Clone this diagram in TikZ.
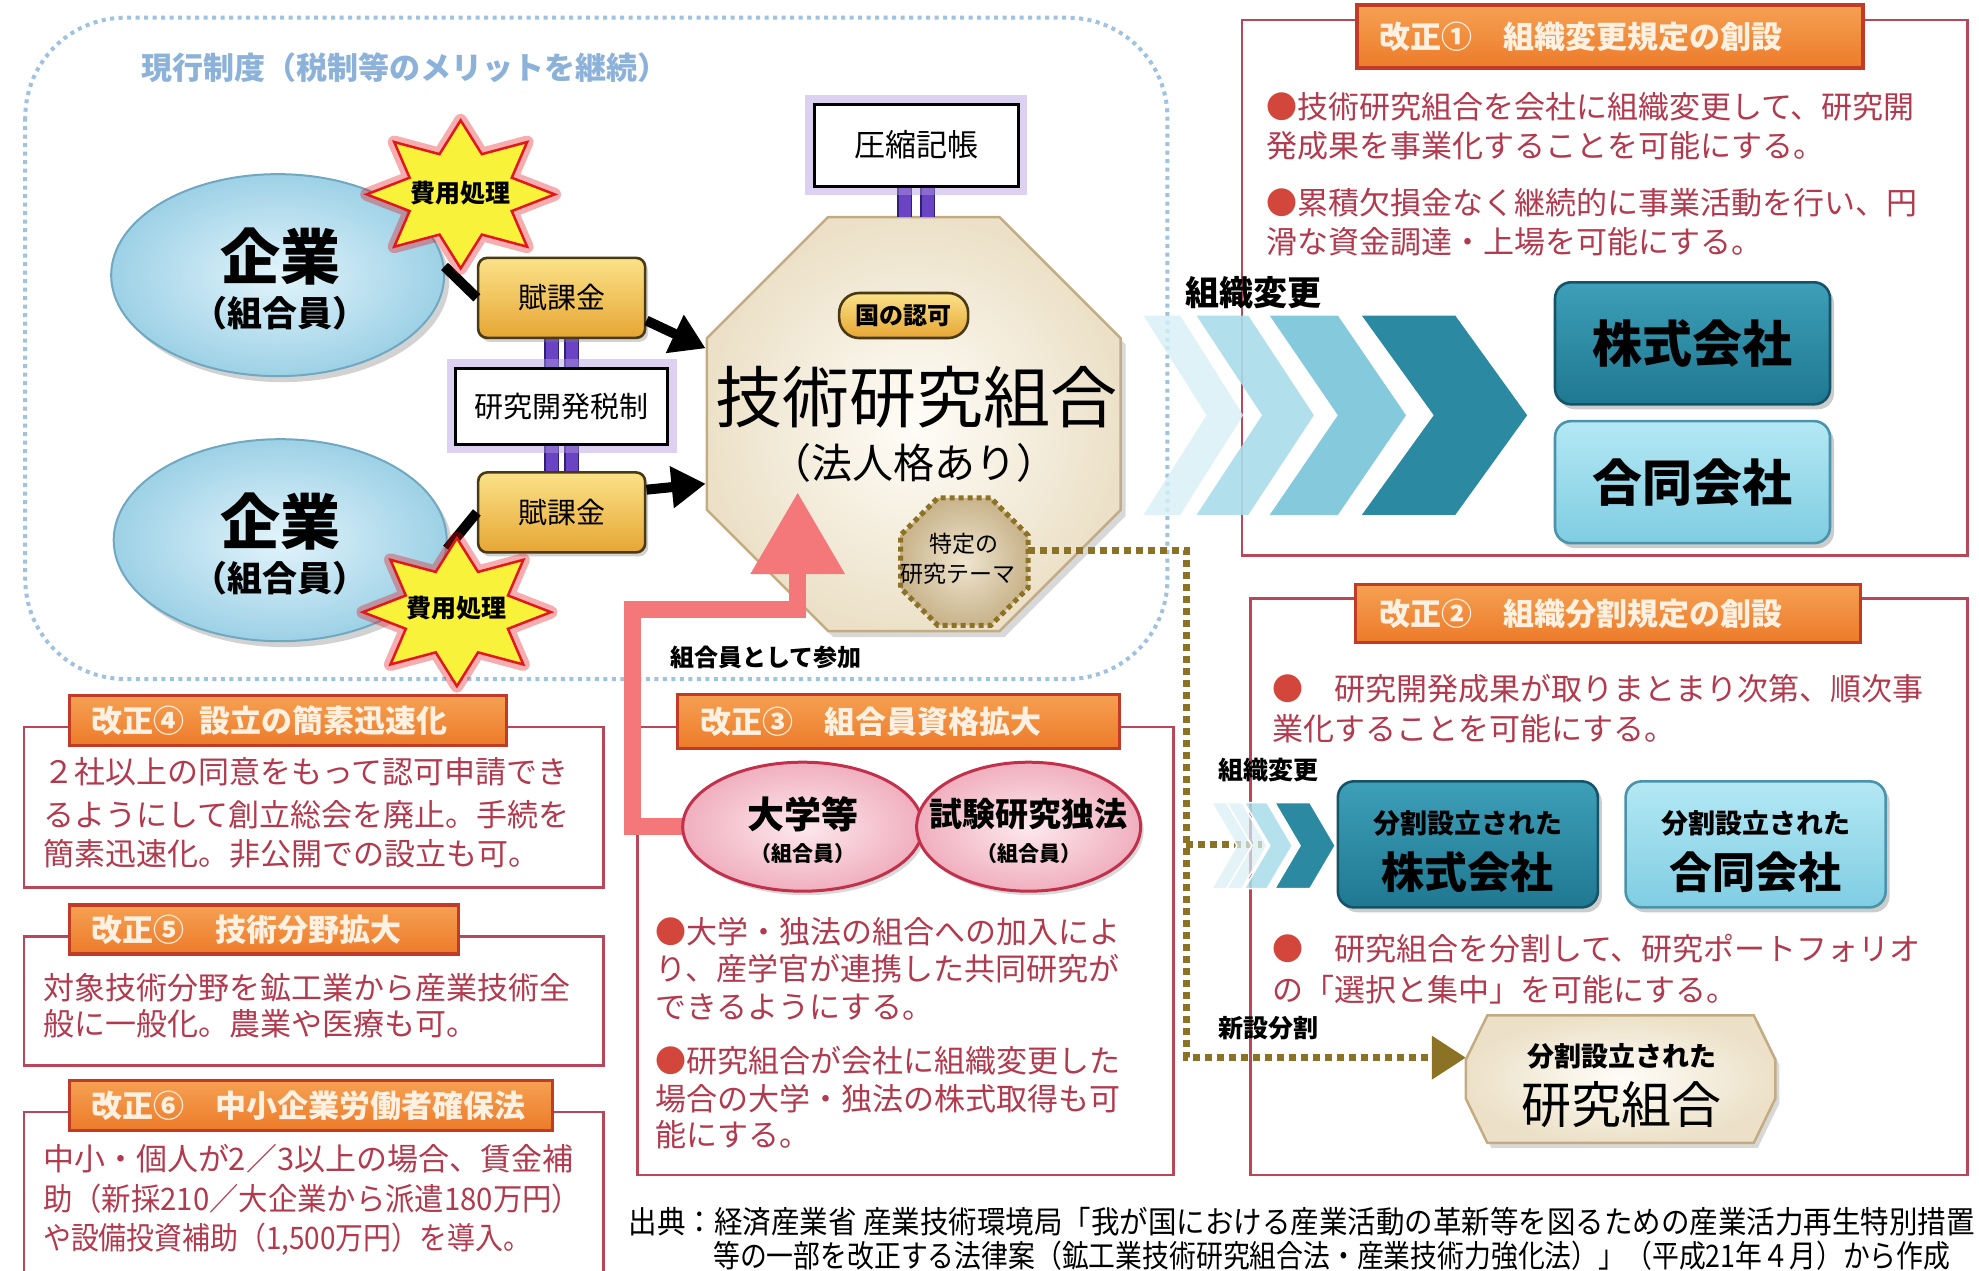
\documentclass[tikz,border=0pt]{standalone}
\usepackage{fontspec}
\setmainfont{Noto Sans CJK JP}
\usepackage{graphicx}
\usetikzlibrary{shapes.geometric,shapes.misc,arrows.meta,calc,shadows}

\definecolor{bodyred}{HTML}{B23A4E}
\definecolor{bulred}{HTML}{D2463C}
\definecolor{boxred}{HTML}{B8475A}
\definecolor{hdrborder}{HTML}{C23B27}
\definecolor{hdrtop}{HTML}{F6A052}
\definecolor{hdrbot}{HTML}{EC7B2A}
\definecolor{hdrtxt}{HTML}{FFF1E2}
\definecolor{dotblue}{HTML}{9EC2E0}
\definecolor{titleblue}{HTML}{8DB2DA}
\definecolor{entin}{HTML}{E2F4FB}
\definecolor{entout}{HTML}{9DD1E6}
\definecolor{entborder}{HTML}{6FA8C0}
\definecolor{fukatop}{HTML}{FBE288}
\definecolor{fukabot}{HTML}{E6A634}
\definecolor{fukaborder}{HTML}{4A3A14}
\definecolor{glowpurple}{HTML}{B49BE0}
\definecolor{purp}{HTML}{6A44C2}
\definecolor{purpdark}{HTML}{2E1F78}
\definecolor{burstyellow}{HTML}{F8F23A}
\definecolor{burstred}{HTML}{E3161B}
\definecolor{octin}{HTML}{FFFDF8}
\definecolor{octout}{HTML}{ECE1C8}
\definecolor{octborder}{HTML}{C4AC82}
\definecolor{tokin}{HTML}{EFE5CF}
\definecolor{tokout}{HTML}{C9B48C}
\definecolor{brownd}{HTML}{8C7224}
\definecolor{pinkline}{HTML}{F4787A}
\definecolor{pinkin}{HTML}{FDE9EE}
\definecolor{pinkout}{HTML}{F0AFBE}
\definecolor{pinkborder}{HTML}{C2304C}
\definecolor{tealtop}{HTML}{3E9FB8}
\definecolor{tealbot}{HTML}{1F7891}
\definecolor{tealborder}{HTML}{155468}
\definecolor{cyantop}{HTML}{B4E8F4}
\definecolor{cyanbot}{HTML}{7FCDE2}
\definecolor{cyanborder}{HTML}{4B93AA}
\definecolor{chA}{HTML}{D8EFF6}
\definecolor{chB}{HTML}{A9DCEA}
\definecolor{chC}{HTML}{7FC7DC}
\definecolor{chD}{HTML}{2B8AA2}

\newcommand\fz[1]{\fontsize{#1pt}{#1pt}\selectfont}
\newcommand\bul{\textcolor{bulred}{●}}
\newcommand\chevron[6]{%
  \fill[#6] (#1,#4) -- ({#1+#2},#4) -- ({#1+#2+#3},{(#4+#5)/2}) -- ({#1+#2},#5) -- (#1,#5) -- ({#1+#3},{(#4+#5)/2}) -- cycle;}

\begin{document}
\begin{tikzpicture}[x=1.2621pt,y=-1.2621pt,
  boxline/.style={draw=boxred, line width=2.6pt},
  bluedot/.style={draw=dotblue, line width=4pt, dash pattern=on 4pt off 4.5pt},
  hdrbox/.style={rectangle, draw=hdrborder, line width=3.5pt, top color=hdrtop, bottom color=hdrbot, inner sep=0},
  hdrtext/.style={anchor=west, inner sep=0, text=hdrtxt, font=\fz{31}\bfseries},
  bodytxt/.style={anchor=west, inner sep=0, text=bodyred, font=\fz{31}, text height=27pt, text depth=5pt},
  entell/.style={ellipse, draw=entborder, line width=2pt, inner color=entin, outer color=entout, minimum width=333pt, minimum height=202pt, inner sep=0, drop shadow={opacity=0.35, shadow xshift=5pt, shadow yshift=-6pt}},
  fukabox/.style={rectangle, rounded corners=9pt, draw=fukaborder, line width=2.6pt, top color=fukatop, bottom color=fukabot, minimum width=167pt, minimum height=80pt, font=\fz{29}, drop shadow={opacity=0.35, shadow xshift=3pt, shadow yshift=-4pt}},
  glowbox/.style={rectangle, draw=black, line width=3pt, fill=white, preaction={draw=glowpurple, line width=18pt, opacity=0.45}},
  burst/.style={star, star points=8, star point ratio=1.7, minimum size=148pt, inner sep=0, fill=burstyellow, draw=burstred, line width=2.5pt, preaction={draw=burstred, line width=13pt, line join=round, opacity=0.35}},
  bursttext/.style={inner sep=0, font=\fz{25}\bfseries},
  octo/.style={regular polygon, regular polygon sides=8, minimum size=448pt, inner sep=0, draw=octborder, line width=2.5pt, inner color=octin, outer color=octout, drop shadow={opacity=0.3, shadow xshift=5pt, shadow yshift=-6pt}},
  octshape/.style={regular polygon, regular polygon sides=8, minimum size=138pt, inner sep=0},
  tokoct/.style={octshape, inner color=tokin, outer color=tokout, draw=brownd, line width=5pt, dash pattern=on 5pt off 4pt},
  pillbox/.style={rectangle, rounded corners=20pt, draw=fukaborder, line width=2.6pt, top color=fukatop, bottom color=fukabot, minimum width=129pt, minimum height=45pt, inner sep=0, font=\fz{24}\bfseries},
  tealbox/.style={rectangle, rounded corners=16pt, draw=tealborder, line width=2.6pt, top color=tealtop, bottom color=tealbot, inner sep=0, drop shadow={opacity=0.4, shadow xshift=4pt, shadow yshift=-5pt}},
  cyanbox/.style={rectangle, rounded corners=16pt, draw=cyanborder, line width=2.6pt, top color=cyantop, bottom color=cyanbot, inner sep=0, drop shadow={opacity=0.4, shadow xshift=4pt, shadow yshift=-5pt}},
  ellshape/.style={ellipse, minimum height=129pt, inner sep=0},
  pinkell/.style={ellshape, draw=pinkborder, line width=3pt, inner color=pinkin, outer color=pinkout, drop shadow={opacity=0.3, shadow xshift=3pt, shadow yshift=-4pt}},
  blkline/.style={draw=black, line width=10pt},
  blkarrow/.style={draw=black, line width=10pt, -{Triangle[length=34pt,width=40pt]}},
  pinkarrow/.style={draw=pinkline, line width=17pt, -{Triangle[length=82pt,width=90pt]}},
  browndot/.style={draw=brownd, line width=7pt, dash pattern=on 7pt off 5pt},
  pbar/.style={draw=purp, line width=12pt, preaction={draw=purpdark, line width=15pt}},
  hexfill/.style={draw=octborder, line width=2.5pt, inner color=octin, outer color=octout, drop shadow={opacity=0.3, shadow xshift=4pt, shadow yshift=-5pt}},
  lbl/.style={inner sep=0, font=\fz{25}\bfseries},
]
\useasboundingbox (0,0) rectangle (1568,1006.3);
\fill[white] (0,0) rectangle (1568,1006.3);

% ---------- frames ----------
\draw[bluedot, rounded corners=100pt] (20,14) rectangle (925,538);
\node[anchor=west, inner sep=0, font=\fz{31}\bfseries, text=titleblue] (title) at (112,54) {現行制度（税制等のメリットを継続）};

\draw[boxline] (984,16) rectangle (1559,440);
\draw[boxline] (991,474) rectangle (1559,931);
\draw[boxline] (505,576) rectangle (930,931);
\draw[boxline] (19,576) rectangle (478,703);
\draw[boxline] (19,742) rectangle (478,844);
\draw[boxline] (19,881) rectangle (478,1015);

% ---------- big chevrons ----------
\chevron{906}{29}{50}{250}{408}{chA, fill opacity=.8}
\chevron{948}{41}{52}{250}{408}{chB, fill opacity=.9}
\chevron{1006}{54}{54}{250}{408}{chC, fill opacity=.95}
\chevron{1079}{74}{57}{250}{408}{chD}
\node[inner sep=0, font=\fz{34}\bfseries] (soshiki1) at (993,232) {組織変更};

% ---------- companies (box 1) ----------
\node[tealbox, minimum width=275pt, minimum height=122pt, font=\fz{50}\bfseries] (kabu1) at (1341,272) {株式会社};
\node[cyanbox, minimum width=275pt, minimum height=122pt, font=\fz{50}\bfseries] (goudou1) at (1341,382) {合同会社};

% ---------- left cluster ----------
\node[entell] (ent1) at (220,218) {};
\node[entell] (ent2) at (222,428) {};
\node[inner sep=0, font=\fz{60}\bfseries] (ent1a) at (222,203) {企業};
\node[inner sep=0, font=\fz{35}\bfseries] (ent1b) at (222,248) {（組合員）};
\node[inner sep=0, font=\fz{60}\bfseries] (ent2a) at (222,413) {企業};
\node[inner sep=0, font=\fz{35}\bfseries] (ent2b) at (222,458) {（組合員）};

\node[octo] (oct) at (724,336) {};

\foreach \dx in {-8,8}{
  \draw[pbar] ($(445,268)+(\dx,0)$) -- ($(445,292)+(\dx,0)$);
  \draw[pbar] ($(445,352)+(\dx,0)$) -- ($(445,375)+(\dx,0)$);
}
\node[fukabox] (fuka1) at (445,236) {賦課金};
\node[glowbox, minimum width=212pt, minimum height=76pt, font=\fz{29}] (tax) at (445,322) {研究開発税制};
\node[fukabox] (fuka2) at (445,406) {賦課金};

\draw[blkline] (ent1.3) -- (fuka1.west);
\draw[blkarrow] (fuka1.-15) -- (oct.160);
\draw[blkline] (ent2.-3) -- (fuka2.west);
\draw[blkarrow] (fuka2.15) -- (oct.196);

\begin{scope}[shift={(365,154)}, xscale=1.27]
  \node[burst, transform shape] (star1) at (0,0) {};
\end{scope}
\node[bursttext] (star1t) at (365,153) {費用処理};
\begin{scope}[shift={(362,485)}, xscale=1.27]
  \node[burst, transform shape] (star2) at (0,0) {};
\end{scope}
\node[bursttext] (star2t) at (362,482) {費用処理};

\foreach \dx in {-9,9}{
  \draw[pbar] ($(726,148)+(\dx,0)$) -- ($(726,172)+(\dx,0)$);
}
\node[glowbox, minimum width=204pt, minimum height=82pt, font=\fz{31}] (assh) at (726,115) {圧縮記帳};

\node[pillbox] (nintei) at (716,250) {国の認可};
\node[inner sep=0, font=\fz{67}] (gk) at (726,315) {技術研究組合};
\node[inner sep=0, font=\fz{41}] (hj) at (724,367) {（法人格あり）};

% ---------- brown dotted route ----------
\node[octshape] (tok) at (764,445) {};
\coordinate (bend) at (940,838);
\coordinate (bbr) at (940,669);
\coordinate (bbrend) at (1000,669);
\node[minimum width=309pt, minimum height=127pt, inner sep=0] (kumiai) at (1284,855) {};
\draw[browndot, -{Triangle[length=34pt,width=42pt]}] (tok.10) -| (bend) -- (bend -| kumiai.west);
\draw[browndot] (bbr) -- (bbrend);
\node[tokoct] (tokvis) at (tok) {};
\node[inner sep=0, font=\fz{23}] (tok1) at (764,431) {特定の};
\node[inner sep=0, font=\fz{23}] (tok2) at (759,455) {研究テーマ};

% ---------- pink arrow ----------
\node[ellshape, minimum width=240pt] (dai) at (636,655) {};
\coordinate (pk2) at (501,483);
\coordinate (pktip) at (632,390);
\draw[pinkarrow] (dai.west) -| (pk2) -| (pktip);
\node[pinkell, minimum width=240pt] (daivis) at (dai) {};
\node[pinkell, minimum width=224pt] (shi) at (815,655) {};
\node[inner sep=0, font=\fz{37}\bfseries] (daiA) at (636,645) {大学等};
\node[inner sep=0, font=\fz{21}\bfseries] (daiB) at (636,676) {（組合員）};
\node[inner sep=0, font=\fz{33}\bfseries] (shiA) at (815,645) {試験研究独法};
\node[inner sep=0, font=\fz{21}\bfseries] (shiB) at (815,676) {（組合員）};
\node[lbl, font=\fz{24}\bfseries] (sanka) at (607,521) {組合員として参加};

% ---------- headers ----------
\node[hdrbox, minimum width=506pt, minimum height=63pt] (h1) at (1275.5,29) {};
\node[hdrtext] (h1t) at (1093,29) {改正①　組織変更規定の創設};
\node[hdrbox, minimum width=505pt, minimum height=58pt] (h2) at (1274,486) {};
\node[hdrtext] (h2t) at (1093,486) {改正②　組織分割規定の創設};
\node[hdrbox, minimum width=442pt, minimum height=54pt] (h3) at (712,571.5) {};
\node[hdrtext] (h3t) at (555,571.5) {改正③　組合員資格拡大};
\node[hdrbox, minimum width=437pt, minimum height=50pt] (h4) at (228,571) {};
\node[hdrtext] (h4t) at (72,571) {改正④\hspace{0.5em}設立の簡素迅速化};
\node[hdrbox, minimum width=389pt, minimum height=49pt] (h5) at (209,736.5) {};
\node[hdrtext] (h5t) at (72,736.5) {改正⑤　技術分野拡大};
\node[hdrbox, minimum width=483pt, minimum height=50pt] (h6) at (246.5,876) {};
\node[hdrtext] (h6t) at (72,876) {改正⑥　中小企業労働者確保法};

% ---------- body texts ----------
\node[bodytxt] (b1a) at (1003,85) {\bul 技術研究組合を会社に組織変更して、研究開};
\node[bodytxt] (b1b) at (1003,116) {発成果を事業化することを可能にする。};
\node[bodytxt] (b1c) at (1003,161) {\bul 累積欠損金なく継続的に事業活動を行い、円};
\node[bodytxt] (b1d) at (1003,192) {滑な資金調達・上場を可能にする。};

\node[bodytxt] (b2a) at (1008,546) {\bul　研究開発成果が取りまとまり次第、順次事};
\node[bodytxt] (b2b) at (1008,578) {業化することを可能にする。};
\node[bodytxt] (b2c) at (1008,752) {\bul　研究組合を分割して、研究ポートフォリオ};
\node[bodytxt] (b2d) at (1008,785) {の「選択と集中」を可能にする。};

\node[bodytxt] (b3a) at (519,739) {\bul 大学・独法の組合への加入によ};
\node[bodytxt] (b3b) at (519,768) {り、産学官が連携した共同研究が};
\node[bodytxt] (b3c) at (519,798) {できるようにする。};
\node[bodytxt] (b3d) at (519,841) {\bul 研究組合が会社に組織変更した};
\node[bodytxt] (b3e) at (519,871) {場合の大学・独法の株式取得も可};
\node[bodytxt] (b3f) at (519,900) {能にする。};

\node[bodytxt] (b4a) at (34,612) {２社以上の同意をもって認可申請でき};
\node[bodytxt] (b4b) at (34,646) {るようにして創立総会を廃止。手続を};
\node[bodytxt] (b4c) at (34,677) {簡素迅速化。非公開での設立も可。};

\node[bodytxt] (b5a) at (34,783) {対象技術分野を鉱工業から産業技術全};
\node[bodytxt] (b5b) at (34,812) {般に一般化。農業や医療も可。};

\node[bodytxt] (b6a) at (34,919) {\resizebox{530pt}{\height}{中小・個人が2／3以上の場合、賃金補}};
\node[bodytxt] (b6b) at (34,950) {\resizebox{538pt}{\height}{助（新採210／大企業から派遣180万円）}};
\node[bodytxt] (b6c) at (34,981) {\resizebox{488pt}{\height}{や設備投資補助（1,500万円）を導入。}};

% ---------- box 2 diagram ----------
\chevron{960}{12}{20}{636}{704}{chA, fill opacity=.7, draw=white, line width=1.5pt}
\chevron{972}{12}{20}{636}{704}{chA, fill opacity=.7, draw=white, line width=1.5pt}
\chevron{986}{18}{20}{636}{704}{chB, fill opacity=.85, draw=white, line width=1.5pt}
\chevron{1010}{28}{20}{636}{704}{chD, draw=white, line width=1.5pt}
\node[lbl] (soshiki2) at (1005,610) {組織変更};
\node[lbl] (shinsetsu) at (1005,815) {新設分割};

\node[tealbox, minimum width=260pt, minimum height=126pt] (kabu2) at (1163,669) {};
\node[inner sep=0, font=\fz{27}\bfseries] (kabu2a) at (1163,652) {分割設立された};
\node[inner sep=0, font=\fz{43}\bfseries] (kabu2b) at (1163,691) {株式会社};
\node[cyanbox, minimum width=260pt, minimum height=126pt] (goudou2) at (1391,669) {};
\node[inner sep=0, font=\fz{27}\bfseries] (goudou2a) at (1391,652) {分割設立された};
\node[inner sep=0, font=\fz{43}\bfseries] (goudou2b) at (1391,691) {合同会社};

\path[hexfill] ($(kumiai.north west)+(17,0)$) -- ($(kumiai.north east)+(-17,0)$) -- ($(kumiai.north east)+(0,35)$) -- ($(kumiai.south east)+(0,-35)$) -- ($(kumiai.south east)+(-17,0)$) -- ($(kumiai.south west)+(17,0)$) -- ($(kumiai.south west)+(0,-35)$) -- ($(kumiai.north west)+(0,35)$) -- cycle;
\node[inner sep=0, font=\fz{27}\bfseries] (kumA) at (1285,837) {分割設立された};
\node[inner sep=0, font=\fz{50}] (kumB) at (1285,875) {研究組合};

% ---------- citation ----------
\node[anchor=west, inner sep=0, font=\fz{31}] (cite1) at (498,968) {\resizebox{1346pt}{\height}{出典：経済産業省 産業技術環境局「我が国における産業活動の革新等を図るための産業活力再生特別措置}};
\node[anchor=west, inner sep=0, font=\fz{31}] (cite2) at (565,995) {\resizebox{1237pt}{\height}{等の一部を改正する法律案（鉱工業技術研究組合法・産業技術力強化法）」（平成21年４月）から作成}};
\end{tikzpicture}
\end{document}
